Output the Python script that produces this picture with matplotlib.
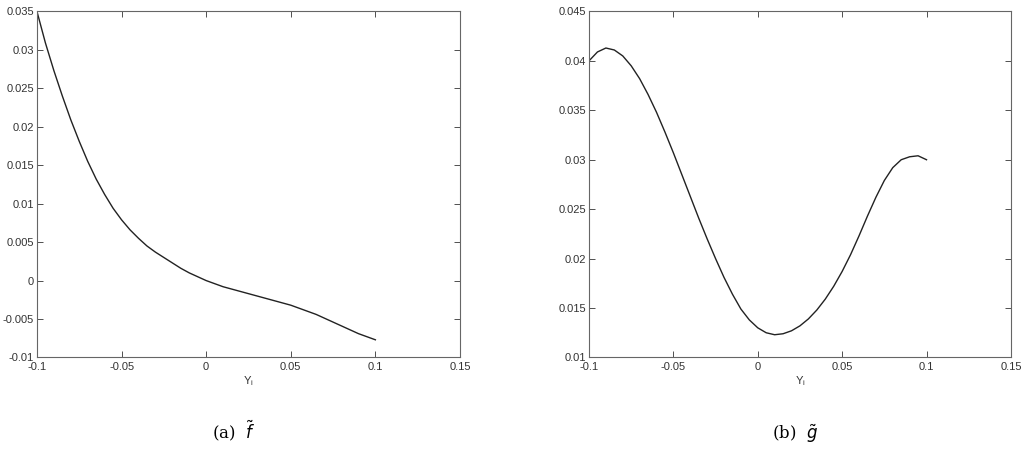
import matplotlib
matplotlib.use('Agg')
import matplotlib.pyplot as plt
from matplotlib.ticker import FuncFormatter

# Y_i grid shared by both panels
y_i = [-0.100, -0.095, -0.090, -0.085, -0.080, -0.075, -0.070, -0.065, -0.060,
       -0.055, -0.050, -0.045, -0.040, -0.035, -0.030, -0.025, -0.020, -0.015,
       -0.010, -0.005, 0.000, 0.005, 0.010, 0.015, 0.020, 0.025, 0.030, 0.035,
       0.040, 0.045, 0.050, 0.055, 0.060, 0.065, 0.070, 0.075, 0.080, 0.085,
       0.090, 0.095, 0.100]

# panel (a): f tilde
f_tilde = [0.0350, 0.0309, 0.0273, 0.0240, 0.0209, 0.0181, 0.0155, 0.0132, 0.0112,
           0.0094, 0.0079, 0.0066, 0.0055, 0.0045, 0.0037, 0.0030, 0.0023, 0.0016,
           0.0010, 0.0005, 0.0000, -0.0004, -0.0008, -0.0011, -0.0014, -0.0017,
           -0.0020, -0.0023, -0.0026, -0.0029, -0.0032, -0.0036, -0.0040, -0.0044,
           -0.0049, -0.0054, -0.0059, -0.0064, -0.0069, -0.0073, -0.0077]

# panel (b): g tilde
g_tilde = [0.0400, 0.0409, 0.0413, 0.0411, 0.0405, 0.0395, 0.0382, 0.0366, 0.0348,
           0.0328, 0.0307, 0.0285, 0.0263, 0.0241, 0.0220, 0.0200, 0.0181, 0.0164,
           0.0149, 0.0138, 0.0130, 0.0125, 0.0123, 0.0124, 0.0127, 0.0132, 0.0139,
           0.0148, 0.0159, 0.0172, 0.0187, 0.0204, 0.0223, 0.0243, 0.0262, 0.0279,
           0.0292, 0.0300, 0.0303, 0.0304, 0.0300]

x_ticks = [-0.1, -0.05, 0, 0.05, 0.1, 0.15]
f_ticks = [-0.01, -0.005, 0, 0.005, 0.01, 0.015, 0.02, 0.025, 0.03, 0.035]
g_ticks = [0.01, 0.015, 0.02, 0.025, 0.03, 0.035, 0.04, 0.045]

plt.rcParams['font.family'] = ['Liberation Sans', 'DejaVu Sans']
plt.rcParams['axes.unicode_minus'] = False

fig = plt.figure(figsize=(10.24, 4.5), dpi=100)

panels = [
    ([0.0361, 0.2056, 0.4131, 0.769], f_tilde, f_ticks, (-0.01, 0.035), r'(a)  $\tilde{f}$', 0.228),
    ([0.5752, 0.2056, 0.4120, 0.769], g_tilde, g_ticks, (0.01, 0.045), r'(b)  $\tilde{g}$', 0.776),
]

fmt = FuncFormatter(lambda v, pos: '%g' % round(v, 6))

for rect, vals, yt, ylim, caption, cx in panels:
    ax = fig.add_axes(rect)
    ax.plot(y_i, vals, color='#222222', linewidth=1.0)

    ax.set_xlim(-0.1, 0.15)
    ax.set_ylim(*ylim)
    ax.set_xticks(x_ticks)
    ax.set_yticks(yt)
    ax.xaxis.set_major_formatter(fmt)
    ax.yaxis.set_major_formatter(fmt)

    ax.tick_params(direction='in', length=4, width=0.6, labelsize=8,
                   top=True, right=True, colors='#333333')
    ax.tick_params(axis='x', pad=3.5)
    ax.tick_params(axis='y', pad=2)
    for sp in ax.spines.values():
        sp.set_color('#666666')
        sp.set_linewidth(0.8)

    ax.set_xlabel(r'Y$_\mathregular{i}$', fontsize=8, labelpad=1, color='#333333')

    # sub-figure caption below each panel
    fig.text(cx, 0.025, caption, fontsize=12, family='DejaVu Serif',
             ha='center', va='baseline')

fig.savefig('out.png', dpi=100)
